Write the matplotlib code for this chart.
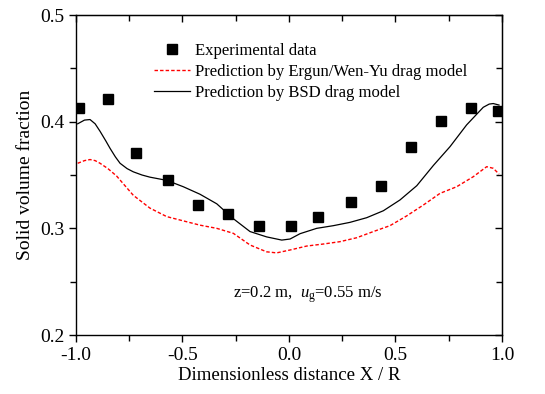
import matplotlib
matplotlib.use("Agg")
import matplotlib.pyplot as plt
from matplotlib.ticker import MultipleLocator, NullFormatter

plt.rcParams['font.family'] = ['Liberation Serif', 'DejaVu Serif']
plt.rcParams['mathtext.fontset'] = 'custom'
plt.rcParams['mathtext.rm'] = 'Liberation Serif'
plt.rcParams['mathtext.it'] = 'Liberation Serif:italic'
plt.rcParams['axes.unicode_minus'] = False

# experimental data
exp_x = [-0.984, -0.851, -0.720, -0.570, -0.429, -0.288, -0.139, 0.009,
         0.138, 0.289, 0.432, 0.574, 0.714, 0.854, 0.983]
exp_y = [0.413, 0.421, 0.371, 0.345, 0.322, 0.313, 0.302, 0.302,
         0.311, 0.325, 0.340, 0.376, 0.401, 0.4125, 0.410]

# BSD drag model
bsd_x = [-0.992, -0.960, -0.934, -0.910, -0.887, -0.860, -0.840, -0.815,
         -0.793, -0.760, -0.731, -0.690, -0.653, -0.574,
         -0.496, -0.418, -0.339, -0.261, -0.183, -0.105, -0.034, 0.005,
         0.052, 0.130, 0.208, 0.286, 0.365, 0.443, 0.521, 0.600, 0.678,
         0.756, 0.834, 0.912, 0.940, 0.959, 0.986]
bsd_y = [0.398, 0.4015, 0.402, 0.398, 0.391, 0.382, 0.375, 0.367,
         0.361, 0.356, 0.353, 0.350, 0.348, 0.345,
         0.339, 0.332, 0.323, 0.309, 0.297, 0.292, 0.289, 0.290,
         0.295, 0.300, 0.3025, 0.3056, 0.310, 0.3165, 0.3266, 0.340, 0.359,
         0.3766, 0.397, 0.4135, 0.4165, 0.417, 0.4156]

# Ergun/Wen-Yu drag model
ew_x = [-0.992, -0.960, -0.934, -0.910, -0.887, -0.850, -0.809, -0.770,
        -0.731, -0.653, -0.574, -0.496,
        -0.418, -0.339, -0.261, -0.183, -0.105, -0.058, 0.005, 0.083,
        0.161, 0.239, 0.318, 0.396, 0.474, 0.552, 0.631, 0.709, 0.787,
        0.865, 0.928, 0.959, 0.986]
ew_y = [0.361, 0.3635, 0.3645, 0.3635, 0.361, 0.356, 0.349, 0.340,
        0.331, 0.319, 0.311, 0.307,
        0.303, 0.300, 0.2953, 0.2844, 0.278, 0.277, 0.2797, 0.2834,
        0.2853, 0.2875, 0.2912, 0.297, 0.3025, 0.3116, 0.3219, 0.3328, 0.339,
        0.3484, 0.3578, 0.3563, 0.3509]

fig = plt.figure(figsize=(5.45, 3.94), dpi=100)
ax = fig.add_axes([0.1394, 0.1497, 0.7817, 0.8122])

ax.plot(exp_x, exp_y, 's', color='black', markersize=7, label='Experimental data')
ax.plot(ew_x, ew_y, '--', color='red', lw=1.0, dashes=(2.5, 1.5),
        label='Prediction by Ergun/Wen-Yu drag model')
ax.plot(bsd_x, bsd_y, '-', color='black', lw=0.9, label='Prediction by BSD drag model')

ax.set_xlim(-1.0, 1.0)
ax.set_ylim(0.2, 0.5)
ax.xaxis.set_major_locator(MultipleLocator(0.5))
ax.xaxis.set_minor_locator(MultipleLocator(0.25))
ax.yaxis.set_major_locator(MultipleLocator(0.1))
ax.yaxis.set_minor_locator(MultipleLocator(0.05))
ax.tick_params(which='major', direction='out', length=5, width=1, labelsize=14)
ax.tick_params(which='minor', direction='out', length=4, width=1)

# inward ticks on top and right
for side in ['top', 'right']:
    if side == 'top':
        sec = ax.secondary_xaxis('top')
        sec.xaxis.set_major_locator(MultipleLocator(0.5))
        sec.xaxis.set_minor_locator(MultipleLocator(0.25))
        sec.xaxis.set_major_formatter(NullFormatter())
    else:
        sec = ax.secondary_yaxis('right')
        sec.yaxis.set_major_locator(MultipleLocator(0.1))
        sec.yaxis.set_minor_locator(MultipleLocator(0.05))
        sec.yaxis.set_major_formatter(NullFormatter())
    sec.tick_params(which='major', direction='in', length=5, width=1)
    sec.tick_params(which='minor', direction='in', length=4, width=1)

for sp in ax.spines.values():
    sp.set_linewidth(1.0)

ax.set_xlabel('Dimensionless distance X / R', fontsize=13.5, labelpad=2)
ax.set_ylabel('Solid volume fraction', fontsize=14, labelpad=4)

ax.text(0.09, 0.2347, r'z=0.2 m,  $u_\mathrm{g}$=0.55 m/s', fontsize=12,
        ha='center', va='baseline')

ax.legend(loc='upper left', bbox_to_anchor=(0.164, 0.94), frameon=False,
          fontsize=12, handlelength=2.15, handletextpad=0.3, labelspacing=0.3,
          borderpad=0)

fig.savefig('out.png', dpi=100)
